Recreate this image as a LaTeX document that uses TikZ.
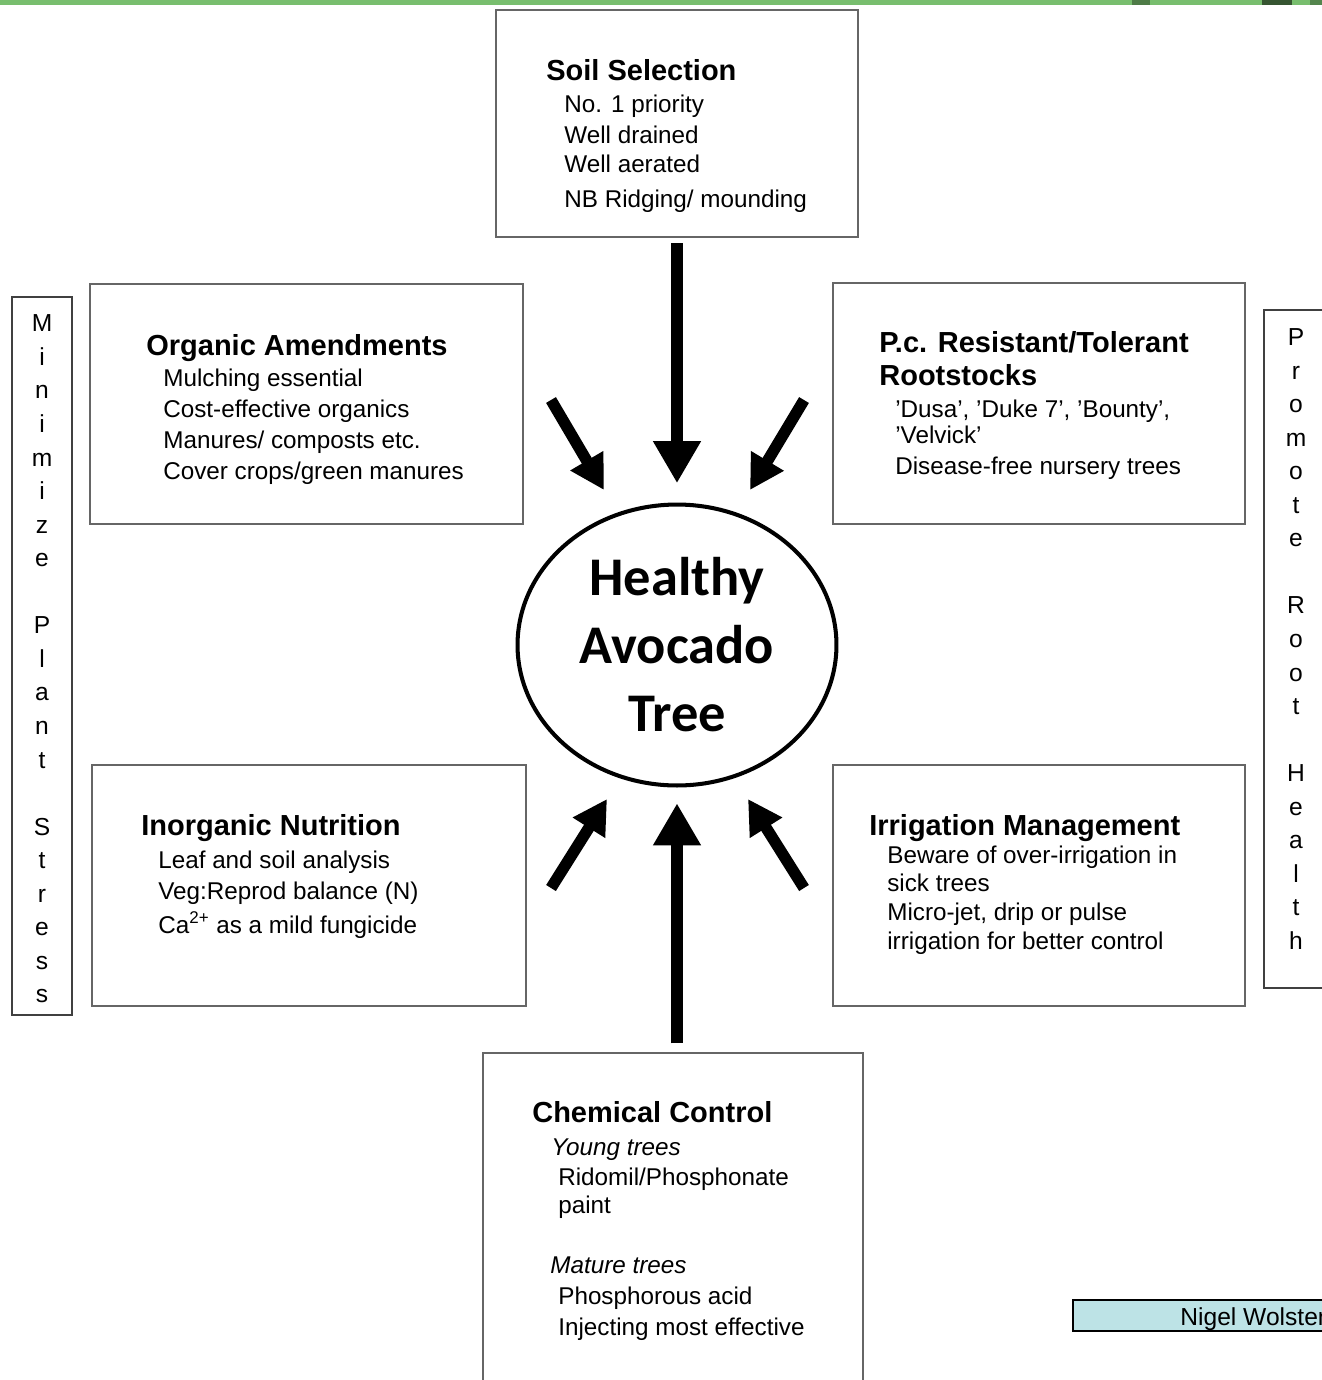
\documentclass[tikz,border=0pt]{standalone}
\usepackage{fontspec}
\setmainfont{Liberation Sans}
\newfontfamily\calfont{Carlito}
\usetikzlibrary{arrows.meta}
\usetikzlibrary{shapes.geometric}

\definecolor{stripgreen}{HTML}{78BE6E}
\definecolor{namecyan}{HTML}{BDE3E6}

\begin{document}
\begin{tikzpicture}
    [
    x=0.02cm, y=-0.02cm,
    box/.style={draw=black!60, line width=0.9pt, rectangle, inner sep=0pt},
    sidebox/.style={draw=black!75, line width=1pt, rectangle, inner sep=0pt},
    ttl/.style={anchor=base west, inner sep=0pt, font=\fontsize{16.5}{19}\selectfont\bfseries},
    itm/.style={anchor=base west, inner sep=0pt, font=\fontsize{13.8}{16}\selectfont},
    vtext/.style={align=center, inner sep=0pt, font=\fontsize{14}{19.1}\selectfont},
    bigarrow/.style={line width=7pt, -{Triangle[width=0.9cm,length=0.84cm]}},
    diagarrow/.style={line width=6.5pt, -{Triangle[width=0.72cm,length=0.68cm]}},
    ]
    \useasboundingbox (0,0) rectangle (1322,1380);

    % strip along the top
    \fill[stripgreen] (0,0) rectangle (1322,5);
    \fill[black!35!stripgreen] (1132,0) rectangle (1150,5);
    \fill[black!55!stripgreen] (1262,0) rectangle (1292,5);
    \fill[black!30!stripgreen] (1310,0) rectangle (1322,5);

    % centre
    \node[ellipse, draw, line width=2.3pt, minimum width=6.38cm, minimum height=5.62cm,
          align=center, font=\fontsize{31}{38.7}\selectfont\calfont\bfseries] (tree) at (677,645)
          {Healthy\\Avocado\\Tree};

    % boxes
    \node[box, minimum width=7.24cm, minimum height=4.54cm] (soil) at (677,123.5) {};
    \node[box, minimum width=8.66cm, minimum height=4.8cm] (organic) at (306.5,404) {};
    \node[box, minimum width=8.24cm, minimum height=4.82cm] (rootstock) at (1039,403.5) {};
    \node[box, minimum width=8.68cm, minimum height=4.82cm] (inorganic) at (309,885.5) {};
    \node[box, minimum width=8.24cm, minimum height=4.82cm] (irrigation) at (1039,885.5) {};
    \node[box, minimum width=7.6cm, minimum height=6.94cm] (chemical) at (673,1226.5) {};

    % side bars
    \node[sidebox, minimum width=1.2cm, minimum height=14.36cm] (minimize) at (42,656) {};
    \node[vtext] (minimizetxt) at (42,659)
          {M\\i\\n\\i\\m\\i\\z\\e\\~\\P\\l\\a\\n\\t\\~\\S\\t\\r\\e\\s\\s};
    \node[sidebox, minimum width=1.52cm, minimum height=13.56cm] (promote) at (1302,649) {};
    \node[vtext] (promotetxt) at (1296,639)
          {P\\r\\o\\m\\o\\t\\e\\~\\R\\o\\o\\t\\~\\H\\e\\a\\l\\t\\h};

    % box texts
    \node[ttl] (soilttl) at (546,80) {Soil Selection};
    \node[itm] at (564,112) {No. 1 priority};
    \node[itm] at (564,143) {Well drained};
    \node[itm] at (564,172) {Well aerated};
    \node[itm] at (564,207) {NB Ridging/ mounding};

    \node[ttl] (organicttl) at (146,355) {Organic Amendments};
    \node[itm] at (163,386) {Mulching essential};
    \node[itm] at (163,417) {Cost-effective organics};
    \node[itm] at (163,448) {Manures/ composts etc.};
    \node[itm] at (163,479) {Cover crops/green manures};

    \node[ttl] (rootstockttl) at (879,352) {P.c. Resistant/Tolerant};
    \node[ttl] at (879,385) {Rootstocks};
    \node[itm] at (895,417) {'Dusa', 'Duke 7', 'Bounty',};
    \node[itm] at (895,443) {'Velvick'};
    \node[itm] at (895,474) {Disease-free nursery trees};

    \node[ttl] (inorganicttl) at (141,835) {Inorganic Nutrition};
    \node[itm] at (158,868) {Leaf and soil analysis};
    \node[itm] at (158,899) {Veg:Reprod balance (N)};
    \node[itm] at (158,933) {Ca\textsuperscript{2+} as a mild fungicide};

    \node[ttl] (irrigationttl) at (869,835) {Irrigation Management};
    \node[itm] at (887,863) {Beware of over-irrigation in};
    \node[itm] at (887,891) {sick trees};
    \node[itm] at (887,920) {Micro-jet, drip or pulse};
    \node[itm] at (887,949) {irrigation for better control};

    \node[ttl] (chemicalttl) at (532,1122) {Chemical Control};
    \node[itm, font=\fontsize{13.8}{16}\selectfont\itshape] at (551,1155) {Young trees};
    \node[itm] at (558,1185) {Ridomil/Phosphonate};
    \node[itm] at (558,1213) {paint};
    \node[itm, font=\fontsize{13.8}{16}\selectfont\itshape] at (550,1273) {Mature trees};
    \node[itm] at (558,1304) {Phosphorous acid};
    \node[itm] at (558,1335) {Injecting most effective};

    % name tag, cut by the page edge
    \node[draw, fill=namecyan, line width=0.8pt, minimum width=5.74cm, minimum height=0.62cm,
          inner sep=0pt] (nametag) at (1216.5,1315.5) {};
    \node[itm, font=\fontsize{14}{16}\selectfont] (name) at (1180,1325) {Nigel Wolstenholme};

    % arrows
    \coordinate (tlA) at (551,400);
    \coordinate (tlB) at (604,490);
    \coordinate (trA) at (804,400);
    \coordinate (trB) at (750,490);
    \coordinate (blA) at (551,888);
    \coordinate (blB) at (607,799);
    \coordinate (brA) at (804,888);
    \coordinate (brB) at (748,799);

    \draw[bigarrow, shorten <=3pt, shorten >=11pt] (soil.south) -- (tree.north);
    \draw[bigarrow, shorten <=5pt, shorten >=9pt] (chemical.north -| tree.south) -- (tree.south);
    \draw[diagarrow] (tlA) -- (tlB);
    \draw[diagarrow] (trA) -- (trB);
    \draw[diagarrow] (blA) -- (blB);
    \draw[diagarrow] (brA) -- (brB);
\end{tikzpicture}
\end{document}
